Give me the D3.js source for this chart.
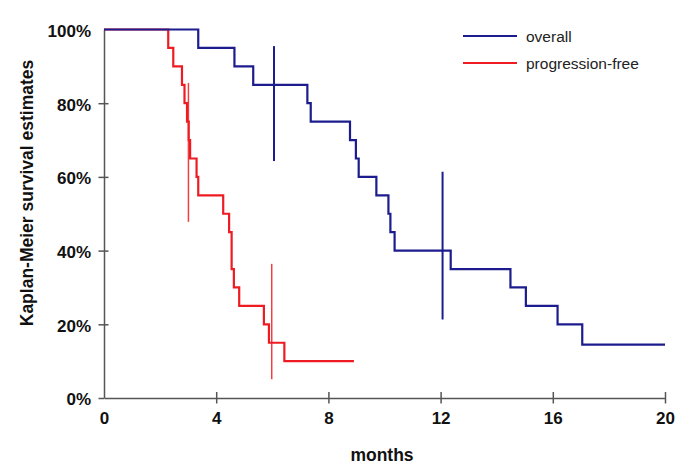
<!DOCTYPE html>
<meta charset="utf-8">
<style>
body{ margin:0; background:#fff; }
svg text{ font-family:"Liberation Sans", Arial, sans-serif; }
.tick text{ font-weight:bold; font-size:17px; fill:#111; }
.axis path, .axis line{ stroke:#555; stroke-width:1.5; }
.title{ font-weight:bold; font-size:17.5px; fill:#111; }
.legend text{ font-size:15.5px; fill:#222; }
</style>
<body>
<script src="https://d3js.org/d3.v7.min.js"></script>
<script>

var width = 685,
    height = 473;

// overall survival: step times (months) and survival after each step
var overallTimes = [0, 3.36, 4.65, 5.32, 7.25, 7.37, 8.77, 8.98, 9.08, 9.71, 10.14, 10.21, 10.36, 12.36, 14.49, 15.04, 16.17, 17.05];
var overallSurv  = [1, 0.95, 0.90, 0.85, 0.80, 0.75, 0.70, 0.65, 0.60, 0.55, 0.50, 0.45, 0.40, 0.35, 0.30, 0.25, 0.20, 0.145];
var overallEnd = 20;
var overallCensor = [{t:6.06, lo:0.643, hi:0.955}, {t:12.07, lo:0.213, hi:0.614}];

// progression-free survival
var pfsTimes = [0, 2.29, 2.47, 2.78, 2.87, 2.96, 3.02, 3.07, 3.30, 3.36, 4.25, 4.46, 4.55, 4.63, 4.82, 5.70, 5.88, 6.43];
var pfsSurv  = [1, 0.95, 0.90, 0.85, 0.80, 0.75, 0.70, 0.65, 0.60, 0.55, 0.50, 0.45, 0.35, 0.30, 0.25, 0.20, 0.15, 0.10];
var pfsEnd = 8.91;
var pfsCensor = [{t:3.01, lo:0.478, hi:0.855}, {t:5.98, lo:0.051, hi:0.364}];

var xTicks = [0, 4, 8, 12, 16, 20];
var yTicks = [0, 0.2, 0.4, 0.6, 0.8, 1];

var blue = "#1c1c8e", red = "#ee1c22";

var svg = d3.select("body").append("svg")
    .attr("width", width)
    .attr("height", height);

var x = d3.scaleLinear().domain([0, 20]).range([104, 665]);
var y = d3.scaleLinear().domain([0, 1]).range([398, 29.5]);

// axes
var xAxis = svg.append("g")
    .attr("class","axis")
    .attr("transform","translate(0,398)")
    .call(d3.axisBottom(x).tickValues(xTicks).tickSize(0).tickPadding(14).tickSizeOuter(0));
xAxis.selectAll(".tick line")
    .attr("y1", -6).attr("y2", 5.5);
xAxis.selectAll(".tick").filter(function(d){ return d==0; }).select("line").remove();

var yAxis = svg.append("g")
    .attr("class","axis")
    .attr("transform","translate(104,0)")
    .call(d3.axisLeft(y).tickValues(yTicks).tickFormat(d3.format(".0%")).tickSize(0).tickPadding(13).tickSizeOuter(0));
yAxis.selectAll(".tick line")
    .attr("x1", -5.5).attr("x2", 4.5);
yAxis.selectAll(".tick").filter(function(d){ return d==1; }).select("line").remove();
yAxis.selectAll(".tick").filter(function(d){ return d==0; }).select("line").attr("x2", 0);
yAxis.selectAll(".tick text").attr("dy","0.4em");

svg.append("text")
    .attr("class","title")
    .attr("text-anchor","middle")
    .attr("transform","translate(33,193) rotate(-90)")
    .text("Kaplan-Meier survival estimates");

svg.append("text")
    .attr("class","title")
    .attr("text-anchor","middle")
    .attr("x", 382).attr("y", 461)
    .text("months");

var line = d3.line()
    .x(function(d){ return x(d[0]); })
    .y(function(d){ return y(d[1]); })
    .curve(d3.curveStepAfter);

function steps(times, surv, end){
    var pts = times.map(function(t,i){ return [t, surv[i]]; });
    pts.push([end, surv[surv.length-1]]);
    return pts;
}

svg.append("path")
    .attr("d", line(steps(pfsTimes, pfsSurv, pfsEnd)))
    .attr("fill","none").attr("stroke", red).attr("stroke-width", 2.2);

svg.append("path")
    .attr("d", line(steps(overallTimes, overallSurv, overallEnd)))
    .attr("fill","none").attr("stroke", blue).attr("stroke-width", 2.2);

svg.selectAll(".cens-red")
    .data(pfsCensor)
    .enter().append("line")
    .attr("x1", function(d){ return x(d.t); }).attr("x2", function(d){ return x(d.t); })
    .attr("y1", function(d){ return y(d.hi); }).attr("y2", function(d){ return y(d.lo); })
    .attr("stroke", red).attr("stroke-opacity", 0.85).attr("stroke-width", 1.5);

svg.selectAll(".cens-blue")
    .data(overallCensor)
    .enter().append("line")
    .attr("x1", function(d){ return x(d.t); }).attr("x2", function(d){ return x(d.t); })
    .attr("y1", function(d){ return y(d.hi); }).attr("y2", function(d){ return y(d.lo); })
    .attr("stroke", blue).attr("stroke-width", 2);

// legend
var legendItems = [{label:"overall", color:blue}, {label:"progression-free", color:red}];
var legend = svg.append("g").attr("class","legend")
    .selectAll("g").data(legendItems)
    .enter().append("g")
    .attr("transform", function(d,i){ return "translate(463," + (36 + i*27) + ")"; });
legend.append("line")
    .attr("x1",0).attr("x2",54)
    .attr("stroke", function(d){ return d.color; }).attr("stroke-width", 2);
legend.append("text")
    .attr("x", 63).attr("y", 5.5)
    .text(function(d){ return d.label; });

</script>
</body>
